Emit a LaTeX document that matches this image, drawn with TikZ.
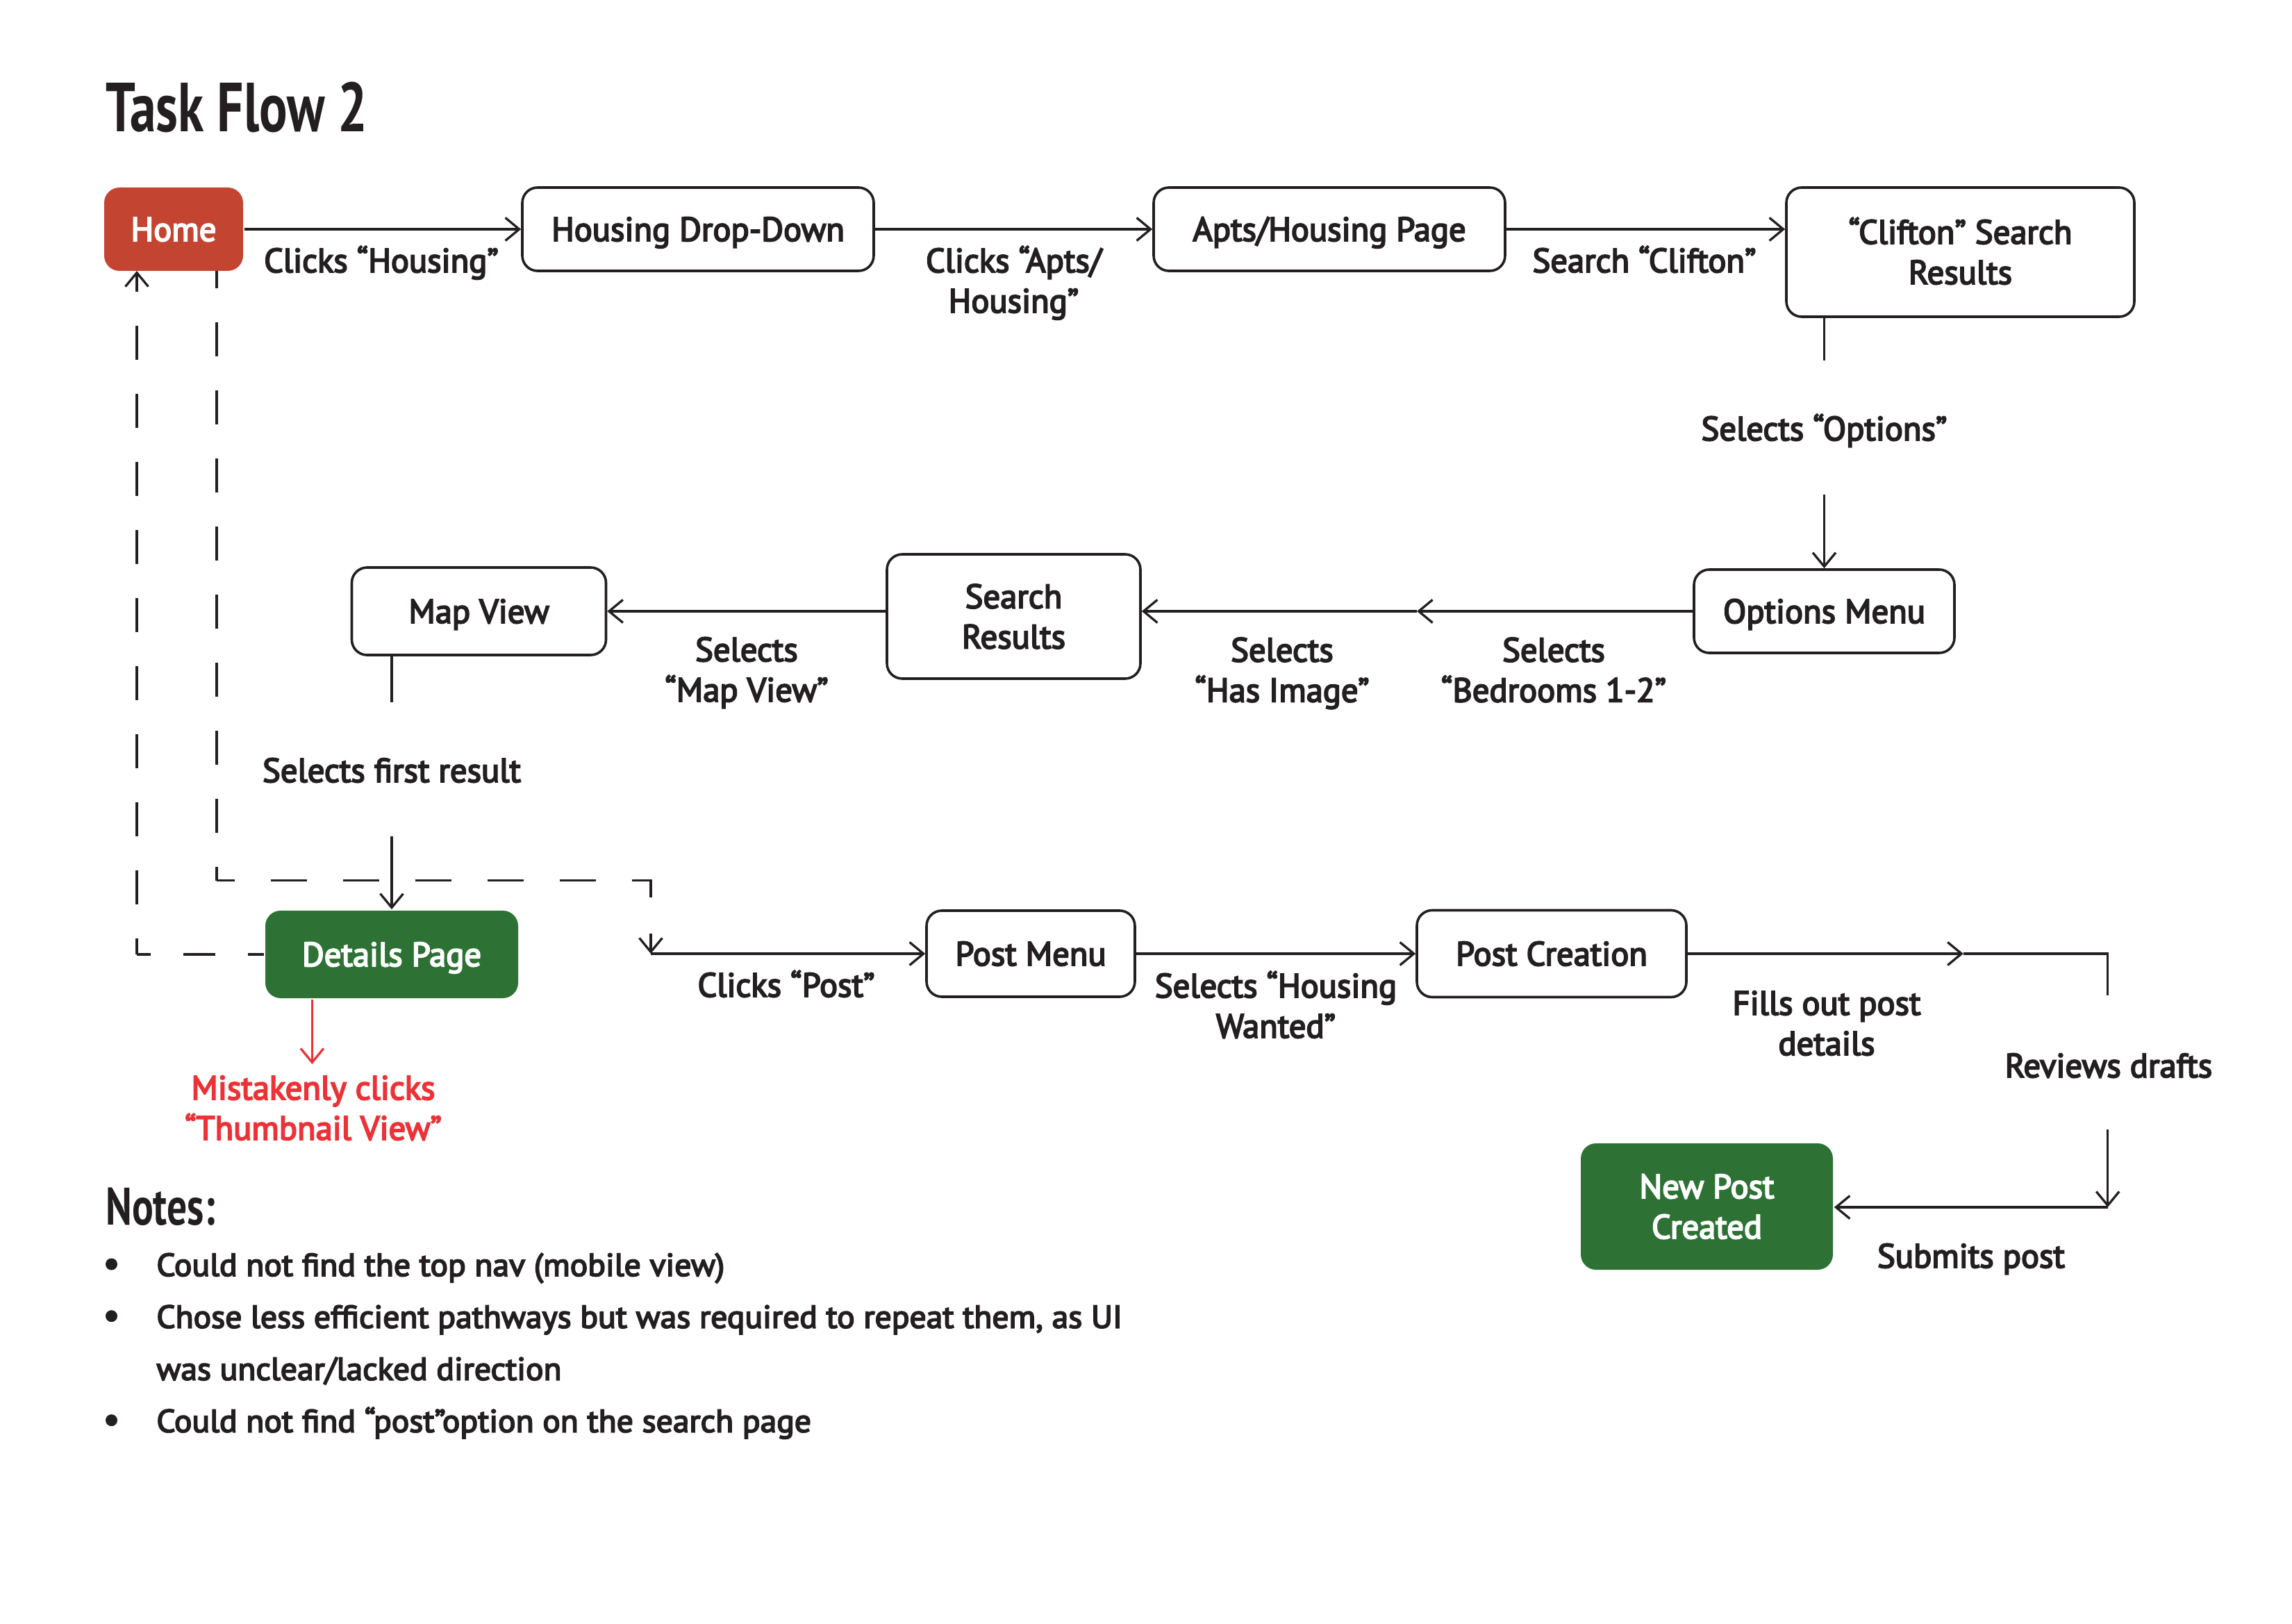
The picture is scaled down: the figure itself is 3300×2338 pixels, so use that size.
\documentclass[tikz,border=0pt]{standalone}
\usepackage{fontspec}
\setmainfont{PT Sans}[FakeBold=4]
\newfontfamily\notefam{PT Sans}[FakeStretch=1.035,FakeBold=4]
\newfontfamily\condfont{PT Sans}[FakeStretch=0.755]
\usetikzlibrary{arrows.meta,calc}
\definecolor{ink}{HTML}{231F20}
\definecolor{homered}{HTML}{C44432}
\definecolor{okgreen}{HTML}{2D7234}
\definecolor{errred}{HTML}{EC3237}
\newcommand\diafont{\fontsize{24.3}{29}\selectfont}
\newcommand\notefont{\notefam\fontsize{23}{37.5}\selectfont}
\newcommand\twol[2]{\begin{tabular}[t]{@{}c@{}}#1\\#2\end{tabular}}
\begin{document}
\begin{tikzpicture}[x=0.5pt,y=-0.5pt,
  >={Straight Barb[length=10pt,width=16.5pt]},
  box/.style={draw=ink, line width=1.8pt, rounded corners=11pt, inner sep=0pt,
    text height=17pt, text depth=0pt, font=\diafont, text=ink, fill=white},
  filledbox/.style={box, draw=none, text=white},
  twoline/.style={text height=17pt, text depth=29pt},
  lbl/.style={anchor=base, inner sep=0pt, font=\diafont, text=ink},
  flow/.style={draw=ink, line width=1.65pt},
  vdash/.style={flow, dash pattern=on 24.5pt off 24.5pt},
  hdash/.style={flow, dash pattern=on 26pt off 26pt},
  ldash/.style={flow, dash pattern=on 23pt off 23.5pt},
  notetext/.style={anchor=base west, inner sep=0pt, font=\notefont, text=ink},
  bulletdot/.style={circle, fill=ink, inner sep=0pt, minimum size=8.5pt}]
\useasboundingbox (0,0) rectangle (3300,2338);

% title
\node[anchor=base west, inner sep=0pt, text=ink, font=\condfont\bfseries\fontsize{50}{60}\selectfont] (title) at (152,190) {Task Flow 2};

% boxes
\node[filledbox, fill=homered, minimum width=100pt, minimum height=60pt] (home) at (250,330) {Home};
\node[box, minimum width=253pt, minimum height=60pt] (hdd) at (1005,330) {Housing Drop-Down};
\node[box, minimum width=253pt, minimum height=60pt] (apts) at (1914,330) {Apts/Housing Page};
\node[box, twoline, minimum width=250.5pt, minimum height=93pt] (cs) at (2822.5,363) {\twol{“Clifton” Search}{Results}};
\node[box, minimum width=187.5pt, minimum height=60pt] (opt) at (2626.5,880) {Options Menu};
\node[box, twoline, minimum width=182.5pt, minimum height=89.5pt] (sr) at (1459.5,887.5) {\twol{Search}{Results}};
\node[box, minimum width=183pt, minimum height=63pt] (mv) at (689.5,880) {Map View};
\node[filledbox, fill=okgreen, minimum width=182pt, minimum height=63pt] (det) at (564,1374) {Details Page};
\node[box, minimum width=150pt, minimum height=62pt] (pm) at (1484,1373) {Post Menu};
\node[box, minimum width=194pt, minimum height=62.5pt] (pc) at (2234,1373) {Post Creation};
\node[filledbox, twoline, fill=okgreen, minimum width=181.5pt, minimum height=91pt] (npc) at (2457.5,1737) {\twol{New Post}{Created}};

% labels
\node[lbl] (lhousing) at (549,392) {Clicks “Housing”};
\node[lbl] (lapts) at (1459.5,392) {\twol{Clicks “Apts/}{Housing”}};
\node[lbl] (lclifton) at (2367.5,392) {Search “Clifton”};
\node[lbl] (loptions) at (2626.5,634) {Selects “Options”};
\node[lbl] (lbed) at (2237,952.5) {\twol{Selects}{“Bedrooms 1-2”}};
\node[lbl] (limg) at (1846,952.5) {\twol{Selects}{“Has Image”}};
\node[lbl] (lmap) at (1075,952) {\twol{Selects}{“Map View”}};
\node[lbl] (lfirst) at (564,1126) {Selects first result};
\node[lbl] (lpost) at (1132,1435) {Clicks “Post”};
\node[lbl] (lwanted) at (1837,1436) {\twol{Selects “Housing}{Wanted”}};
\node[lbl] (lfills) at (2630,1461) {\twol{Fills out post}{details}};
\node[lbl] (lreview) at (3036,1551) {Reviews drafts};
\node[lbl] (lsubmit) at (2838,1825) {Submits post};
\node[lbl, text=errred] (lmistake) at (451,1583) {\twol{Mistakenly clicks}{“Thumbnail View”}};

% helper coordinates
\coordinate (o1) at (2626.5,519);
\coordinate (o2) at (2626.5,711.5);
\coordinate (m1) at (2040,880);
\coordinate (f1) at (564,1011);
\coordinate (f2) at (564,1204);
\coordinate (hl) at (197,390);
\coordinate (lc) at (197,1374);
\coordinate (hr) at (312,390);
\coordinate (rc) at (312,1267.6);
\coordinate (dc) at (937,1267.6);
\coordinate (pj) at (937,1373);
\coordinate (m2) at (2826.8,1373);
\coordinate (r0) at (3034.7,1373);
\coordinate (r1) at (3034.7,1433);
\coordinate (r2) at (3034.7,1625.8);
\coordinate (r3) at (3034.7,1738);
\coordinate (rd) at (449.4,1532);

% connectors
\draw[flow,->] (home.east) -- (hdd.west);
\draw[flow,->] (hdd.east) -- (apts.west);
\draw[flow,->] (apts.east) -- (cs.west |- apts.east);
\draw[flow] (opt.north |- cs.south) -- (o1);
\draw[flow,->] (o2) -- (opt.north);
\draw[flow,->] (opt.west) -- (m1);
\draw[flow,->] (m1) -- (sr.east |- m1);
\draw[flow,->] (sr.west |- m1) -- (mv.east);
\draw[flow] (det.north |- mv.south) -- (f1);
\draw[flow,->] (f2) -- (det.north);
% dashed return to Home
\draw[ldash,dash phase=11.5pt] (det.west) -- (lc);
\draw[vdash,->,dash phase=13pt] (lc) -- (hl);
% dashed from Home to the post path
\draw[vdash,dash phase=12pt] (hr) -- (rc);
\draw[hdash,->,dash phase=13.25pt] (rc) -- (dc) -- (pj);
\draw[flow,->] (pj) -- (pm.west);
\draw[flow,->] (pm.east) -- (pc.west);
\draw[flow,->] (pc.east) -- (m2);
\draw[flow] (m2) -- (r0) -- (r1);
\draw[flow,->] (r2) -- (r3);
\draw[flow,->] (r3) -- (npc.east |- r3);
\draw[flow,->,draw=errred] (det.south -| rd) -- (rd);

% notes
\node[anchor=base west, inner sep=0pt, text=ink, font=\condfont\bfseries\fontsize{38}{45}\selectfont] (notes) at (152,1763) {Notes:};
\node[bulletdot] (b1) at (160.5,1820) {};
\node[bulletdot] (b2) at (160.5,1894.7) {};
\node[bulletdot] (b3) at (160.5,2044.7) {};
\node[notetext] (n1) at (225,1837) {Could not find the top nav (mobile view)};
\node[notetext] (n2) at (225,1911.7) {\begin{tabular}[t]{@{}l@{}}Chose less efficient pathways but was required to repeat them, as UI\\was unclear/lacked direction\end{tabular}};
\node[notetext] (n3) at (225,2061.7) {Could not find “post”option on the search page};
\end{tikzpicture}
\end{document}
